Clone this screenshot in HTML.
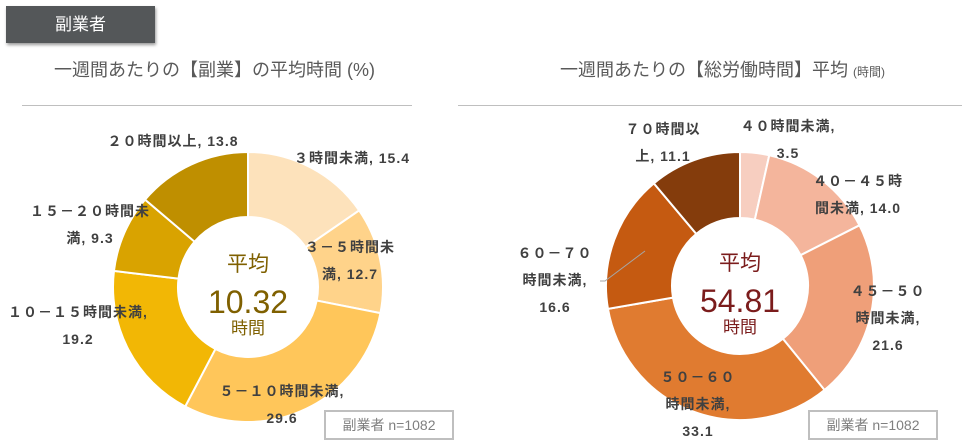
<!DOCTYPE html>
<html><head><meta charset="utf-8">
<style>
body{margin:0;width:962px;height:448px;background:#fff;overflow:hidden;font-family:"Liberation Sans","Noto Sans CJK JP",sans-serif;position:relative}
.tag{position:absolute;left:6px;top:6px;width:149px;height:37px;background:#545759;color:#fff;font-size:17px;line-height:37px;text-align:center;box-shadow:1px 2px 3px rgba(0,0,0,.4)}
.title{position:absolute;top:56px;font-size:18px;color:#595959;white-space:nowrap}
.rule{position:absolute;top:105px;height:1px;background:#bfbfbf}
.nbox{position:absolute;top:410px;width:130px;height:30px;border:2px solid #bfbfbf;box-sizing:border-box;color:#7f7f7f;font-size:14px;line-height:26px;text-align:center}
svg{position:absolute;left:0;top:0}
</style></head><body>
<div class="tag">副業者</div>
<div class="title" style="left:54px">一週間あたりの【副業】の平均時間 (%)</div>
<div class="title" style="left:560px">一週間あたりの【総労働時間】平均 <span style="font-size:12px">(時間)</span></div>
<div class="rule" style="left:22px;width:390px"></div>
<div class="rule" style="left:458px;width:504px"></div>
<svg id="chart" width="962" height="448"></svg>
<div class="nbox" style="left:324px">副業者 n=1082</div>
<div class="nbox" style="left:808px">副業者 n=1082</div>
<script>
const leftCats=["3時間未満","3－5時間未満","5－10時間未満","10－15時間未満","15－20時間未満","20時間以上"];
const leftVals=[15.4,12.7,29.6,19.2,9.3,13.8];
const leftColors=["#FDE2BB","#FFD38A","#FFC65A","#F2B705","#D9A300","#BF8F00"];
const rightCats=["40時間未満","40－45時間未満","45－50時間未満","50－60時間未満","60－70時間未満","70時間以上"];
const rightVals=[3.5,14.0,21.6,33.1,16.6,11.1];
const rightColors=["#F7CEC0","#F4B59C","#EF9F79","#E07B30","#C55A11","#843C0C"];
// label lines (text, positioned per slice)
const leftLabels=[["３時間未満, 15.4"],["３－５時間未","満, 12.7"],["５－１０時間未満,","29.6"],["１０－１５時間未満,","19.2"],["１５－２０時間未","満, 9.3"],["２０時間以上, 13.8"]];
const rightLabels=[["４０時間未満,","3.5"],["４０－４５時","間未満, 14.0"],["４５－５０","時間未満,","21.6"],["５０－６０","時間未満,","33.1"],["６０－７０","時間未満,","16.6"],["７０時間以","上, 11.1"]];
const leftLabelPos=[[352,163],[350,252],[282,396],[78,317],[90,216],[173,146]];
const rightLabelPos=[[788,131],[858,186],[888,296],[698,382],[555,258],[663,134]];
const svg=document.getElementById('chart');
const NS="http://www.w3.org/2000/svg";
function donut(cx,cy,ro,ri,vals,colors,name){
  const tot=vals.reduce((a,b)=>a+b,0);let a0=-Math.PI/2;
  vals.forEach((v,i)=>{
    const a1=a0+v/tot*2*Math.PI;const lg=(a1-a0)>Math.PI?1:0;
    const p=(r,a)=>[cx+r*Math.cos(a),cy+r*Math.sin(a)];
    const [x0,y0]=p(ro,a0),[x1,y1]=p(ro,a1),[x2,y2]=p(ri,a1),[x3,y3]=p(ri,a0);
    const path=document.createElementNS(NS,'path');
    path.setAttribute('d',`M${x0},${y0}A${ro},${ro} 0 ${lg} 1 ${x1},${y1}L${x2},${y2}A${ri},${ri} 0 ${lg} 0 ${x3},${y3}Z`);
    path.setAttribute('fill',colors[i]);path.setAttribute('stroke','#fff');path.setAttribute('stroke-width','2');
    
    
    svg.appendChild(path);a0=a1;
  });
}
function labels(lbls,pos,name){
  lbls.forEach((lines,i)=>{
    lines.forEach((t,j)=>{
      const tx=document.createElementNS(NS,'text');
      tx.setAttribute('x',pos[i][0]);tx.setAttribute('y',pos[i][1]+j*27);
      tx.setAttribute('text-anchor','middle');tx.setAttribute('font-size','14');tx.setAttribute('font-weight','bold');
      tx.setAttribute('fill','#404040');tx.setAttribute('letter-spacing','1');
      
      
      tx.textContent=t;svg.appendChild(tx);
    });
  });
}
function center(cx,cy,val,col,name){
  [["平均",cy-16,21],[val,cy+26,32],["時間",cy+47,17]].forEach((d,k)=>{
    const tx=document.createElementNS(NS,'text');
    tx.setAttribute('x',cx);tx.setAttribute('y',d[1]);tx.setAttribute('text-anchor','middle');
    tx.setAttribute('font-size',d[2]);tx.setAttribute('fill',col);
    
    
    tx.textContent=d[0];svg.appendChild(tx);
  });
}
donut(248,287,135,70,leftVals,leftColors,'left');
donut(740,286,134,68,rightVals,rightColors,'right');
labels(leftLabels,leftLabelPos,'left');
labels(rightLabels,rightLabelPos,'right');
const ln=document.createElementNS(NS,'path');
ln.setAttribute('d','M600,281L605,281L645,251');ln.setAttribute('stroke','#a6a6a6');ln.setAttribute('fill','none');


svg.appendChild(ln);
center(248,287,"10.32","#7F6000",'left');
center(740,286,"54.81","#7B1C1C",'right');
</script>
</body></html>
